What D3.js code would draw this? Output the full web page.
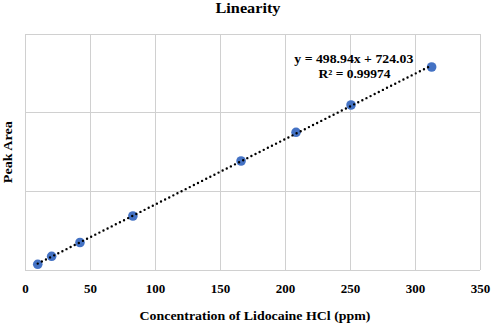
<!DOCTYPE html>
<html><head><meta charset="utf-8">
<script src="https://cdn.jsdelivr.net/npm/d3@7"></script>
<style>
html,body{margin:0;padding:0;background:#fff;}
svg{display:block;}
text{font-family:"Liberation Serif","Times New Roman",serif;font-weight:bold;fill:#000;}
</style></head>
<body>
<svg id="chart" width="491" height="324"></svg>
<script>
const concentration = [9.8, 20.5, 42.3, 83.0, 166.2, 208.5, 250.8, 312.8];
const peakArea = [4350, 10460, 21000, 41240, 83240, 105160, 126010, 155030];
const xTicks = [0, 50, 100, 150, 200, 250, 300, 350];
const yTicks = [0, 60000, 120000, 180000];
const titleText = "Linearity";
const xTitle = "Concentration of Lidocaine HCl (ppm)";
const yTitle = "Peak Area";
const equationText = "y = 498.94x + 724.03";
const r2Text = "R² = 0.99974";

const svg = d3.select("#chart");
const L = 25, R = 480, T = 34.3, B = 270;
const x = d3.scaleLinear().domain([0, 350]).range([L, R]);
const y = d3.scaleLinear().domain([0, 180000]).range([B, T]);

// grid
svg.append("g").selectAll("line").data(xTicks).join("line")
  .attr("x1", d => x(d)).attr("x2", d => x(d)).attr("y1", T).attr("y2", B)
  .attr("stroke", "#d0d0d0").attr("stroke-width", 1).attr("shape-rendering","crispEdges");
svg.append("g").selectAll("line").data(yTicks).join("line")
  .attr("y1", d => y(d)).attr("y2", d => y(d)).attr("x1", L).attr("x2", R)
  .attr("stroke", "#d0d0d0").attr("stroke-width", 1).attr("shape-rendering","crispEdges");

// x axis labels
const xAxis = d3.axisBottom(x).tickValues(xTicks).tickSize(0).tickPadding(0).tickFormat(d3.format("d"));
const gx = svg.append("g").attr("transform", `translate(0,${B})`).call(xAxis);
gx.select(".domain").remove();
gx.attr("font-family", null).attr("font-size", null);
gx.selectAll("text").attr("font-size", 13).attr("dy", null).attr("y", 23.3)
  .style("font-family", '"Liberation Serif","Times New Roman",serif').style("font-weight","bold").attr("fill","#000");

// points
svg.append("g").selectAll("circle").data(concentration).join("circle")
  .attr("cx", d => x(d)).attr("cy", (d, i) => y(peakArea[i])).attr("r", 4.8)
  .attr("fill", "#4472C4");

// trendline (least squares)
const n = concentration.length;
const mx = d3.mean(concentration), my = d3.mean(peakArea);
let sxy = 0, sxx = 0;
for (let i = 0; i < n; i++) { sxy += (concentration[i]-mx)*(peakArea[i]-my); sxx += (concentration[i]-mx)**2; }
const slope = sxy / sxx, icpt = my - slope * mx;
const x0 = d3.min(concentration), x1 = d3.max(concentration);
svg.append("line")
  .attr("x1", x(x0)).attr("y1", y(slope*x0+icpt))
  .attr("x2", x(x1)).attr("y2", y(slope*x1+icpt))
  .attr("stroke", "#000").attr("stroke-width", 2.4)
  .attr("stroke-linecap", "round").attr("stroke-dasharray", "0 4.6");

// equation
svg.append("text").attr("x", 353.8).attr("y", 62.5).attr("text-anchor","middle").attr("font-size", 13)
  .attr("textLength", 119).attr("lengthAdjust", "spacingAndGlyphs").text(equationText);
svg.append("text").attr("x", 354.5).attr("y", 77.5).attr("text-anchor","middle").attr("font-size", 13)
  .attr("textLength", 72).attr("lengthAdjust", "spacingAndGlyphs").text(r2Text);

// title
svg.append("text").attr("x", 248).attr("y", 12.5).attr("text-anchor","middle").attr("font-size", 15.5)
  .attr("textLength", 65).attr("lengthAdjust", "spacingAndGlyphs").text(titleText);
// axis titles
svg.append("text").attr("x", 255).attr("y", 320).attr("text-anchor","middle").attr("font-size", 13)
  .attr("textLength", 231).attr("lengthAdjust", "spacingAndGlyphs").text(xTitle);
svg.append("text").attr("transform", `translate(11.5,${(T+B)/2}) rotate(-90)`).attr("text-anchor","middle").attr("font-size", 13)
  .attr("textLength", 62).attr("lengthAdjust", "spacingAndGlyphs").text(yTitle);
</script>
</body></html>
